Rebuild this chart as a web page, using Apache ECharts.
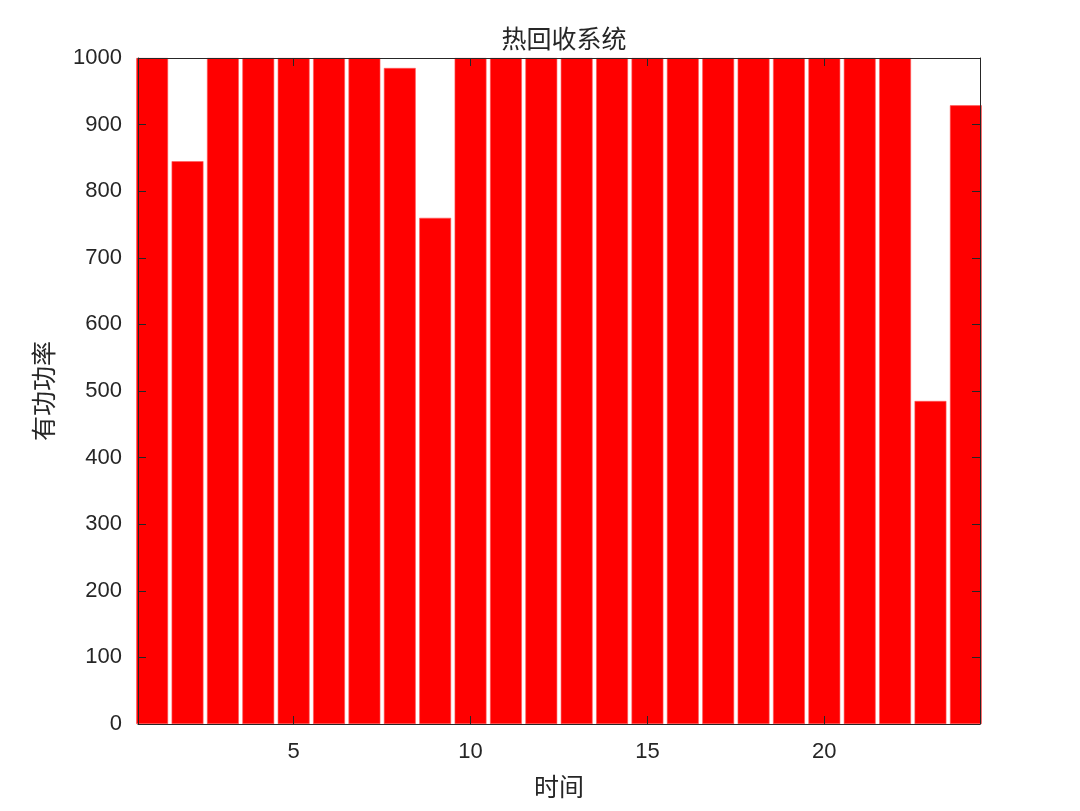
<!DOCTYPE html>
<html>
<head>
<meta charset="utf-8">
<script src="https://cdn.jsdelivr.net/npm/echarts@6/dist/echarts.min.js"></script>
<style>html,body{margin:0;padding:0;background:#fff}#c{width:1080px;height:811px}</style>
</head>
<body>
<div id="c"></div>
<script>
const hours = [1,2,3,4,5,6,7,8,9,10,11,12,13,14,15,16,17,18,19,20,21,22,23,24];
const power = [1000,845,1000,1000,1000,1000,1000,985,760,1000,1000,1000,1000,1000,1000,1000,1000,1000,1000,1000,1000,1000,485,929];
const xTicks = [5,10,15,20];
const titleText = '热回收系统';
const xName = '时间';
const yName = '有功功率';

const txt = '#262626';
const latin = 'Liberation Sans, Arial, sans-serif';
const cjk = 'Noto Sans CJK SC, sans-serif';
const chart = echarts.init(document.getElementById('c'));
const baseX = {
  type: 'value', min: 0.6, max: 24.4, z: 10,
  axisLine: {show: true, onZero: false, lineStyle: {color: txt, width: 1}},
  axisTick: {show: true, inside: true, length: 8, customValues: xTicks, lineStyle: {color: txt}},
  splitLine: {show: false}
};
const baseY = {
  type: 'value', min: 0, max: 1000, interval: 100, z: 10,
  axisLine: {show: true, onZero: false, lineStyle: {color: txt, width: 1}},
  axisTick: {show: true, inside: true, length: 8, lineStyle: {color: txt}},
  splitLine: {show: false}
};
chart.setOption({
  animation: false,
  title: {text: titleText, left: 559, top: 21, textAlign: 'center',
    textStyle: {fontFamily: cjk, fontSize: 25, fontWeight: 'normal', color: txt}},
  grid: {left: 138, right: 100, top: 58, bottom: 87, containLabel: false},
  xAxis: [
    Object.assign({}, baseX, {
      position: 'bottom',
      name: xName, nameLocation: 'middle', nameGap: 50,
      nameTextStyle: {fontFamily: cjk, fontSize: 25, color: txt},
      axisLabel: {customValues: xTicks, fontFamily: latin, fontSize: 22, color: txt, margin: 17}
    }),
    Object.assign({}, baseX, {position: 'top', axisLabel: {show: false}})
  ],
  yAxis: [
    Object.assign({}, baseY, {
      position: 'left',
      name: yName, nameLocation: 'middle', nameGap: 82, nameRotate: 90,
      nameTextStyle: {fontFamily: cjk, fontSize: 25, color: txt},
      axisLabel: {fontFamily: latin, fontSize: 22, color: txt, margin: 16, padding: [4, 0, 0, 0], formatter: v => String(v)}
    }),
    Object.assign({}, baseY, {position: 'right', axisLabel: {show: false}})
  ],
  series: [{
    type: 'bar',
    xAxisIndex: 0, yAxisIndex: 0,
    data: hours.map((h, i) => [h, power[i]]),
    barWidth: '90%',
    clip: false,
    itemStyle: {color: '#ff0000', borderColor: '#ff5a5a', borderWidth: 0.6},
    z: 1
  }]
});
</script>
</body>
</html>
